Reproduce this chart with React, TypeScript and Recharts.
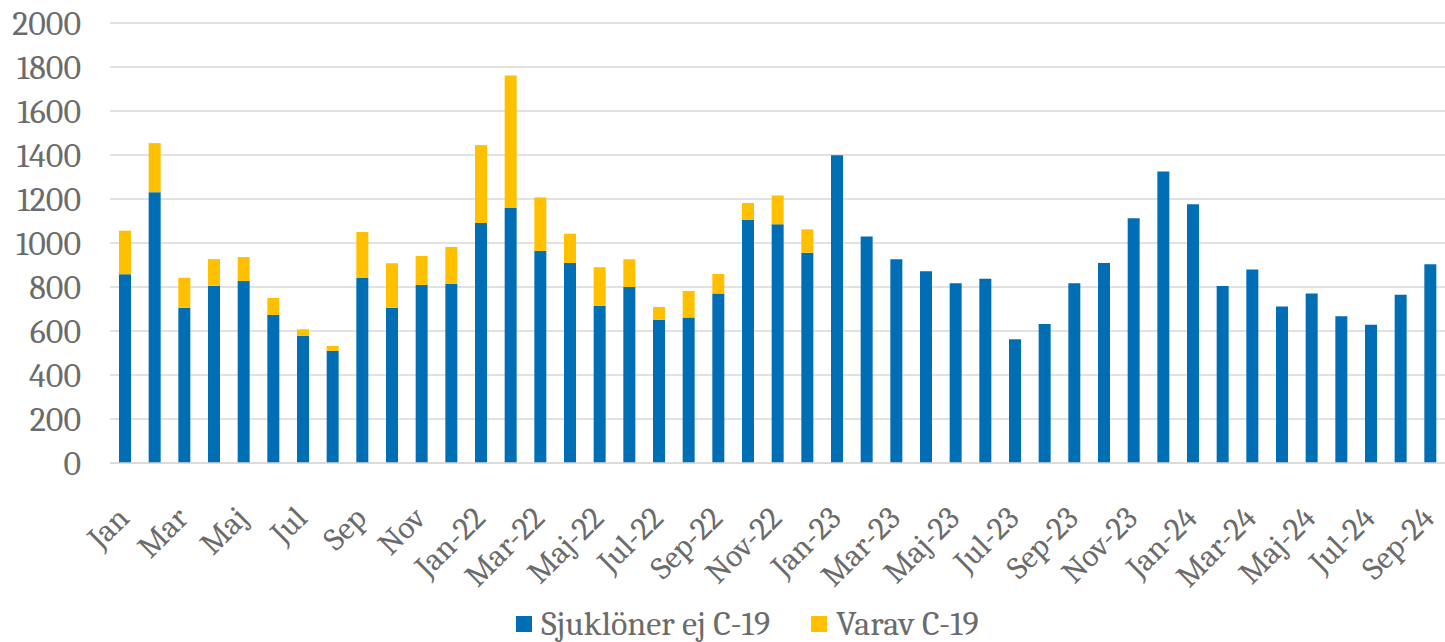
import { BarChart, Bar, XAxis, YAxis, CartesianGrid, Legend } from "recharts";

const months = ["Jan", "Feb", "Mar", "Apr", "Maj", "Jun", "Jul", "Aug", "Sep", "Okt", "Nov", "Dec"];

const categories = [
  ...months,
  ...months.map((m) => `${m}-22`),
  ...months.map((m) => `${m}-23`),
  ...months.slice(0, 9).map((m) => `${m}-24`),
];

// Sjuklöner ej C-19
const sjuklonerEjC19 = [
  858, 1231, 705, 806, 827, 673, 578, 510, 841, 705, 809, 814,
  1091, 1159, 964, 909, 714, 800, 651, 661, 770, 1106, 1085, 956,
  1399, 1029, 926, 872, 817, 838, 563, 632, 817, 909, 1112, 1325,
  1176, 805, 879, 711, 770, 667, 628, 765, 903,
];

// Varav C-19
const varavC19 = [
  198, 223, 137, 121, 109, 77, 30, 22, 209, 203, 132, 168,
  354, 602, 243, 133, 176, 126, 58, 121, 89, 76, 131, 106,
];

const yTicks = [0, 200, 400, 600, 800, 1000, 1200, 1400, 1600, 1800, 2000];

const data = categories.map((name, i) => ({
  name,
  ej: sjuklonerEjC19[i],
  c19: varavC19[i] ?? 0,
}));

const font = "Cambria, 'Liberation Serif', serif";
const textColor = "#6b6b6b";

const XTick = ({ x, y, payload }: any) => (
  <g transform={`translate(${x + 6},${y + 49})`}>
    <text
      x={0}
      y={0}
      textAnchor="end"
      transform="rotate(-45)"
      fill={textColor}
      fontSize={32}
      fontFamily={font}
    >
      {payload.value}
    </text>
  </g>
);

const LegendContent = ({ payload }: any) => (
  <div
    style={{
      display: "flex",
      justifyContent: "center",
      alignItems: "center",
      height: 34,
      paddingLeft: 50,
      fontFamily: font,
      fontSize: 34,
      color: textColor,
    }}
  >
    {(payload || []).map((item: any, i: number) => (
      <div key={i} style={{ display: "flex", alignItems: "center", marginLeft: i ? 41 : 0 }}>
        <span style={{ width: 16, height: 16, background: item.color, marginRight: 9, display: "inline-block" }} />
        <span style={{ lineHeight: "34px" }}>{item.value}</span>
      </div>
    ))}
  </div>
);

export default function App() {
  return (
    <div style={{ position: "absolute", left: 0, top: 0, background: "#fff" }}>
      <BarChart
        width={1445}
        height={642}
        data={data}
        margin={{ top: 23, right: 0, left: 0, bottom: 1 }}
        barSize={12}
      >
        <CartesianGrid vertical={false} stroke="#d9d9d9" strokeWidth={1.5} />
        <XAxis
          dataKey="name"
          interval={1}
          tick={<XTick />}
          tickLine={false}
          axisLine={{ stroke: "#d9d9d9", strokeWidth: 1.5 }}
          height={144}
        />
        <YAxis
          domain={[0, 2000]}
          ticks={yTicks}
          width={110}
          axisLine={false}
          tickLine={false}
          tickSize={0}
          tickMargin={29}
          tick={{ fill: textColor, fontSize: 34, fontFamily: font }}
        />
        <Legend verticalAlign="bottom" content={<LegendContent />} />
        <Bar dataKey="ej" name="Sjuklöner ej C-19" stackId="a" fill="#006EB5" isAnimationActive={false} />
        <Bar dataKey="c19" name="Varav C-19" stackId="a" fill="#FFC000" isAnimationActive={false} />
      </BarChart>
    </div>
  );
}
